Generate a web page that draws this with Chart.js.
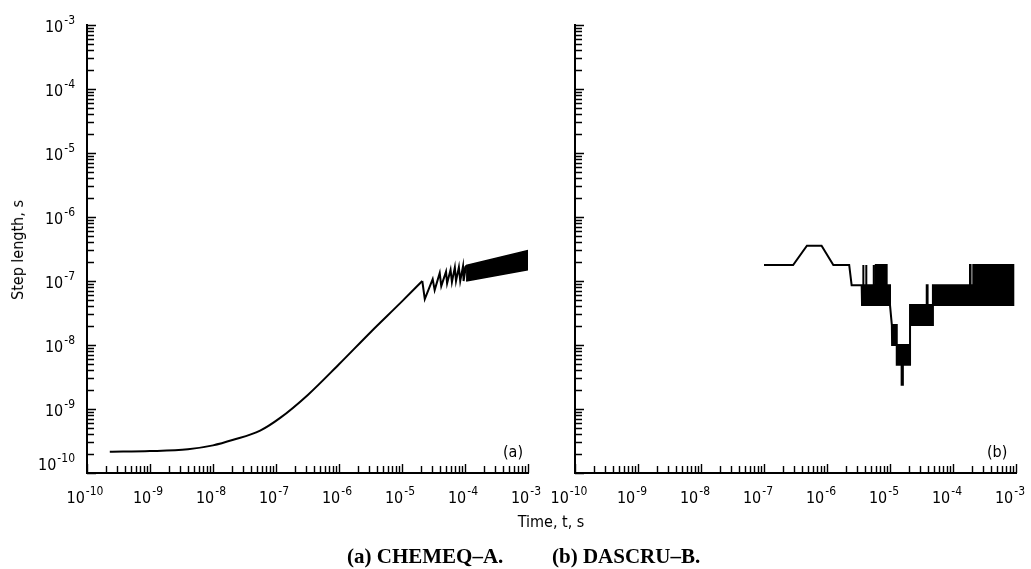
<!DOCTYPE html>
<html>
<head>
<meta charset="utf-8">
<script src="https://cdn.jsdelivr.net/npm/chart.js@4.4.0/dist/chart.umd.min.js"></script>
<style>
  body { margin: 0; background: #fff; }
  #wrap { position: relative; width: 1031px; height: 569px; overflow: hidden; }
  canvas { position: absolute; top: 0; }
  #chartA { left: 0; }
  #chartB { left: 545px; }
  .lbl { position: absolute; font-family: "Liberation Sans Narrow", "DejaVu Sans Condensed", sans-serif; font-size: 16px; color: #000; white-space: nowrap; line-height: 1; }
  #ytitle { left: 18px; top: 250px; transform: translate(-50%, -50%) rotate(-90deg); }
  #xtitle { left: 551px; top: 522px; transform: translate(-50%, -50%); }
  .cap { position: absolute; top: 546px; font-family: "Liberation Serif", serif; font-weight: bold; font-size: 21px; line-height: 1; white-space: nowrap; }
</style>
</head>
<body>
<div id="wrap">
  <canvas id="chartA" width="545" height="569"></canvas>
  <canvas id="chartB" width="486" height="569"></canvas>
  <div class="lbl" id="ytitle">Step length, s</div>
  <div class="lbl" id="xtitle">Time, t, s</div>
  <div class="lbl" style="left:503px; top:444px;">(a)</div>
  <div class="lbl" style="left:987px; top:444px;">(b)</div>
  <div class="cap" style="left:347px;">(a) CHEMEQ–A.</div>
  <div class="cap" style="left:552px;">(b) DASCRU–B.</div>
</div>
<script>
// tick labels: powers of ten on both axes
const tickExponents = [-10, -9, -8, -7, -6, -5, -4, -3];

// (a) CHEMEQ-A, smooth part
const chemeqTime = [2.3e-10, 1e-9, 4e-9, 1e-8, 2.1e-8, 5.6e-8, 1.15e-7, 3.2e-7, 1e-6, 3.2e-6, 1e-5, 2.1e-5];
const chemeqStep = [2.15e-10, 2.2e-10, 2.35e-10, 2.7e-10, 3.3e-10, 4.6e-10, 7.2e-10, 1.66e-9, 5e-9, 1.6e-8, 4.8e-8, 1.0e-7];
// (a) sawtooth after the first peak
const toothTime = [2.1e-5, 2.3e-5, 3.07e-5, 3.3e-5, 3.97e-5, 4.2e-5, 5.0e-5, 5.2e-5, 5.9e-5, 6.2e-5, 6.9e-5, 7.2e-5, 8.0e-5, 8.4e-5, 9.3e-5, 9.5e-5, 1.04e-4];
const toothStep = [1.0e-7, 5.2e-8, 1.07e-7, 7.2e-8, 1.33e-7, 8.3e-8, 1.4e-7, 9.2e-8, 1.5e-7, 9.6e-8, 1.63e-7, 1.0e-7, 1.65e-7, 1.0e-7, 1.7e-7, 1.0e-7, 1.75e-7];
// (a) dense oscillation band, upper and lower edge
const bandTime = [1.04e-4, 1e-3];
const bandHigh = [1.75e-7, 3.0e-7];
const bandLow = [1.0e-7, 1.5e-7];

// (b) DASCRU-B, upper and lower edge of the step history
const dascruTime = [1.0e-7, 2.9e-7, 4.8e-7, 8.2e-7, 1.26e-6, 2.25e-6, 2.46e-6, 3.55e-6, 3.6e-6,
  3.73e-6, 3.73e-6, 3.8e-6, 3.8e-6, 4.16e-6, 4.16e-6, 4.23e-6, 4.23e-6,
  5.47e-6, 5.47e-6, 5.55e-6, 5.55e-6, 5.95e-6, 5.95e-6, 6.05e-6, 6.05e-6,
  6.5e-6, 6.5e-6, 8.85e-6, 8.85e-6, 1.0e-5, 1.0e-5, 1.07e-5, 1.08e-5,
  1.28e-5, 1.28e-5, 1.53e-5, 1.53e-5, 1.6e-5, 1.6e-5, 2.08e-5, 2.08e-5,
  3.83e-5, 3.83e-5, 3.95e-5, 3.95e-5, 4.8e-5, 4.8e-5,
  1.86e-4, 1.86e-4, 1.9e-4, 1.9e-4, 2.1e-4, 2.1e-4, 9.06e-4];
const dascruHigh = [1.78e-7, 1.78e-7, 3.55e-7, 3.55e-7, 1.78e-7, 1.78e-7, 8.6e-8, 8.6e-8, 8.6e-8,
  8.6e-8, 1.78e-7, 1.78e-7, 8.6e-8, 8.6e-8, 1.78e-7, 1.78e-7, 8.6e-8,
  8.6e-8, 1.78e-7, 1.78e-7, 8.6e-8, 8.6e-8, 1.78e-7, 1.78e-7, 8.6e-8,
  8.6e-8, 1.78e-7, 1.78e-7, 8.6e-8, 8.6e-8, 4.2e-8, 2.05e-8, 2.05e-8,
  2.05e-8, 1.0e-8, 1.0e-8, 1.0e-8, 1.0e-8, 1.0e-8, 1.0e-8, 4.2e-8,
  4.2e-8, 8.6e-8, 8.6e-8, 4.2e-8, 4.2e-8, 8.6e-8,
  8.6e-8, 1.78e-7, 1.78e-7, 8.6e-8, 8.6e-8, 1.78e-7, 1.78e-7];
const dascruLow = [1.78e-7, 1.78e-7, 3.55e-7, 3.55e-7, 1.78e-7, 1.78e-7, 8.6e-8, 8.6e-8, 4.2e-8,
  4.2e-8, 4.2e-8, 4.2e-8, 4.2e-8, 4.2e-8, 4.2e-8, 4.2e-8, 4.2e-8,
  4.2e-8, 4.2e-8, 4.2e-8, 4.2e-8, 4.2e-8, 4.2e-8, 4.2e-8, 4.2e-8,
  4.2e-8, 4.2e-8, 4.2e-8, 4.2e-8, 4.2e-8, 4.2e-8, 2.05e-8, 1.0e-8,
  1.0e-8, 4.9e-9, 4.9e-9, 2.4e-9, 2.4e-9, 4.9e-9, 4.9e-9, 2.05e-8,
  2.05e-8, 2.05e-8, 2.05e-8, 2.05e-8, 2.05e-8, 4.2e-8,
  4.2e-8, 4.2e-8, 4.2e-8, 4.2e-8, 4.2e-8, 4.2e-8, 4.2e-8];

const axisFont = '"Liberation Sans Narrow", "DejaVu Sans Condensed", sans-serif';

const toPoints = (xs, ys) => xs.map((x, i) => ({x: x, y: ys[i]}));
// closed outline: upper edge forward, lower edge back
const toShape = (xs, hi, lo) => toPoints(xs, hi).concat(toPoints(xs, lo).reverse());

// draws "10" with a raised exponent
function drawPower(ctx, exp, x, y, align) {
    ctx.font = '16px ' + axisFont;
    const base = '10';
    const sup = '-' + Math.abs(exp);
    const wb = ctx.measureText(base).width;
    ctx.font = '12px ' + axisFont;
    const ws = ctx.measureText(sup).width;
    let left = align === 'right' ? x - wb - ws - 1 : x - (wb + ws + 1) / 2;
    ctx.font = '16px ' + axisFont;
    ctx.fillText(base, left, y);
    ctx.font = '12px ' + axisFont;
    ctx.fillText(sup, left + wb + 1, y - 8);
}

const logTicks = {
    id: 'logTicks',
    afterDraw(chart, args, opts) {
        const ctx = chart.ctx;
        const xs = chart.scales.x, ys = chart.scales.y;
        const area = chart.chartArea;
        ctx.save();
        ctx.strokeStyle = '#000';
        ctx.lineWidth = 1.4;
        ctx.beginPath();
        tickExponents.forEach(e => {
            for (let m = 1; m <= 9; m++) {
                const v = m * Math.pow(10, e);
                if (v > 1.0001e-3) continue;
                const len = m === 1 ? 9 : 7;
                const px = Math.round(xs.getPixelForValue(v)) + 0.5;
                ctx.moveTo(px, area.bottom);
                ctx.lineTo(px, area.bottom - len);
                const py = Math.round(ys.getPixelForValue(v)) + 0.5;
                ctx.moveTo(area.left, py);
                ctx.lineTo(area.left + len, py);
            }
        });
        ctx.stroke();

        ctx.fillStyle = '#000';
        ctx.textBaseline = 'alphabetic';
        ctx.textAlign = 'left';
        tickExponents.forEach(e => {
            const px = xs.getPixelForValue(Math.pow(10, e));
            drawPower(ctx, e, px + opts.shift, area.bottom + 30, 'center');
            if (opts.yLabels) {
                const py = ys.getPixelForValue(Math.pow(10, e));
                const lift = e === -10 ? -10 : 0;
                drawPower(ctx, e, 75, py + 7 + lift, 'right');
            }
        });
        ctx.restore();
    }
};

function makeOptions(padLeft, padRight, tickOpts) {
    const axis = {
        type: 'logarithmic',
        min: 1e-10,
        max: 1e-3,
        grid: {display: false, drawTicks: false},
        ticks: {display: false},
        border: {display: true, color: '#000', width: 2}
    };
    return {
        responsive: false,
        animation: false,
        devicePixelRatio: 1,
        layout: {padding: {left: padLeft, right: padRight, top: 25, bottom: 96}},
        elements: {point: {radius: 0}},
        plugins: {
            legend: {display: false},
            tooltip: {enabled: false},
            logTicks: tickOpts
        },
        scales: {x: Object.assign({}, axis), y: Object.assign({}, axis)}
    };
}

const lineStyle = {borderColor: '#000', borderWidth: 2, pointRadius: 0, fill: false};

new Chart(document.getElementById('chartA'), {
    type: 'line',
    data: {
        datasets: [
            Object.assign({data: toPoints(chemeqTime, chemeqStep), cubicInterpolationMode: 'monotone'}, lineStyle),
            Object.assign({data: toPoints(toothTime, toothStep), tension: 0}, lineStyle),
            Object.assign({}, lineStyle, {data: toShape(bandTime, bandHigh, bandLow), tension: 0, fill: 'shape', backgroundColor: '#000', borderWidth: 1.5})
        ]
    },
    options: makeOptions(87, 17, {yLabels: true, shift: -2}),
    plugins: [logTicks]
});

new Chart(document.getElementById('chartB'), {
    type: 'line',
    data: {
        datasets: [
            Object.assign({}, lineStyle, {data: toShape(dascruTime, dascruHigh, dascruLow), tension: 0, fill: 'shape', backgroundColor: '#000'})
        ]
    },
    options: makeOptions(30, 15, {yLabels: false, shift: -6}),
    plugins: [logTicks]
});
</script>
</body>
</html>
